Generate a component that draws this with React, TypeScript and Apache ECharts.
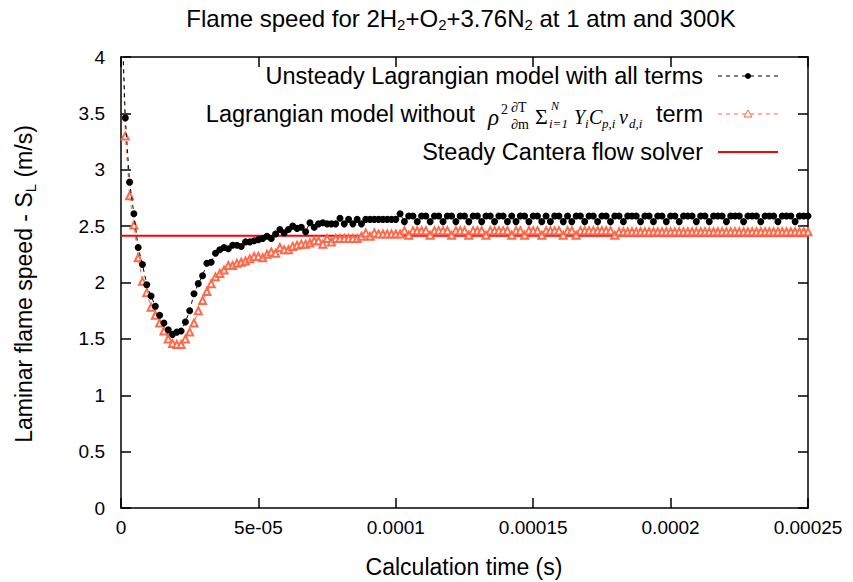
import React, { useEffect, useRef } from "react";
import * as echarts from "echarts";

// ---- data ----
const sampleStepSec = 1.5625e-6;

const unsteadyAllTerms = [
  4.6, 3.46, 2.89, 2.61, 2.31, 2.16, 1.98, 1.88, 1.79, 1.71,
  1.64, 1.58, 1.54, 1.56, 1.57, 1.65, 1.75, 1.9, 1.99, 2.06,
  2.17, 2.18, 2.26, 2.29, 2.31, 2.3, 2.33, 2.33, 2.32, 2.36,
  2.36, 2.37, 2.38, 2.39, 2.41, 2.39, 2.43, 2.47, 2.44, 2.47,
  2.5, 2.48, 2.49, 2.45, 2.53, 2.49, 2.52, 2.53, 2.52, 2.52,
  2.52, 2.57, 2.52, 2.56, 2.52, 2.56, 2.52, 2.56, 2.56, 2.56,
  2.56, 2.56, 2.56, 2.56, 2.56, 2.61, 2.54, 2.59, 2.59, 2.54,
  2.59, 2.59, 2.54, 2.59, 2.59, 2.54, 2.59, 2.59, 2.54, 2.59,
  2.59, 2.54, 2.59, 2.59, 2.54, 2.59, 2.59, 2.54, 2.59, 2.59,
  2.54, 2.59, 2.54, 2.59, 2.59, 2.54, 2.59, 2.59, 2.54, 2.59,
  2.54, 2.59, 2.59, 2.54, 2.59, 2.54, 2.59, 2.59, 2.54, 2.59,
  2.59, 2.54, 2.59, 2.59, 2.54, 2.59, 2.59, 2.54, 2.59, 2.59,
  2.59, 2.54, 2.59, 2.59, 2.54, 2.59, 2.59, 2.54, 2.59, 2.59,
  2.54, 2.59, 2.59, 2.59, 2.54, 2.59, 2.59, 2.54, 2.59, 2.59,
  2.59, 2.54, 2.59, 2.59, 2.59, 2.54, 2.59, 2.59, 2.59, 2.54,
  2.59, 2.59, 2.59, 2.54, 2.59, 2.59, 2.59, 2.54, 2.59, 2.59,
  2.59,
];

const withoutDiffusionTerm = [
  4.6, 3.3, 2.77, 2.51, 2.22, 2.01, 1.91, 1.78, 1.71, 1.64,
  1.57, 1.5, 1.46, 1.45, 1.45, 1.5, 1.56, 1.64, 1.75, 1.84,
  1.92, 1.99, 2.05, 2.08, 2.11, 2.15, 2.15, 2.17, 2.18, 2.19,
  2.21, 2.23, 2.23, 2.22, 2.25, 2.27, 2.26, 2.31, 2.29, 2.29,
  2.32, 2.33, 2.34, 2.34, 2.35, 2.37, 2.37, 2.34, 2.39, 2.36,
  2.39, 2.39, 2.39, 2.39, 2.39, 2.39, 2.41, 2.44, 2.41, 2.44,
  2.43, 2.43, 2.43, 2.43, 2.43, 2.43, 2.46, 2.42, 2.46, 2.46,
  2.46, 2.46, 2.42, 2.46, 2.46, 2.46, 2.46, 2.42, 2.46, 2.46,
  2.46, 2.42, 2.46, 2.46, 2.46, 2.42, 2.46, 2.46, 2.46, 2.46,
  2.46, 2.42, 2.46, 2.46, 2.42, 2.46, 2.46, 2.46, 2.42, 2.46,
  2.46, 2.46, 2.46, 2.42, 2.46, 2.46, 2.42, 2.46, 2.46, 2.46,
  2.46, 2.46, 2.46, 2.46, 2.46, 2.42, 2.45, 2.45, 2.45, 2.45,
  2.45, 2.45, 2.45, 2.45, 2.45, 2.45, 2.45, 2.45, 2.45, 2.45,
  2.45, 2.45, 2.45, 2.45, 2.45, 2.45, 2.45, 2.45, 2.45, 2.45,
  2.45, 2.45, 2.45, 2.45, 2.45, 2.45, 2.45, 2.45, 2.45, 2.45,
  2.45, 2.45, 2.45, 2.45, 2.45, 2.45, 2.45, 2.45, 2.45, 2.45,
  2.45,
];

const canteraSpeed = 2.415;

const xTickLabels = ["0", "5e-05", "0.0001", "0.00015", "0.0002", "0.00025"];
const xMin = 0;
const xMax = 0.00025;
const xStep = 0.00005;
const yMin = 0;
const yMax = 4;
const yStep = 0.5;

const legendNames = [
  "Unsteady Lagrangian model with all terms",
  "Lagrangian model without",
  "Steady Cantera flow solver",
];

// ---- styles ----
const SANS = "'Liberation Sans', Arial, sans-serif";
const SERIF = "'Liberation Serif', 'DejaVu Serif', serif";
const BLACK = "#000000";
const SALMON = "#ff6a4a";
const RED = "#ff0000";

const toPairs = (vals: number[]) => vals.map((v, i) => [i * sampleStepSec, v]);

function buildOption() {
  const axisLine = { show: true, onZero: false, lineStyle: { color: BLACK, width: 1.5 } };
  const axisTick = { show: true, inside: true, length: 10, lineStyle: { color: BLACK, width: 1.5 } };

  const t = (x: number, y: number, text: string, size: number, extra: any = {}) => ({
    type: "text",
    x,
    y,
    silent: true,
    style: {
      text,
      fill: BLACK,
      fontFamily: extra.family || SANS,
      fontSize: size,
      fontStyle: extra.italic ? "italic" : "normal",
      align: extra.align || "left",
      textAlign: extra.align || "left",
      verticalAlign: "middle",
      textVerticalAlign: "middle",
    },
  });

  const L1 = 76;
  const L2 = 114;
  const L3 = 152;
  const legendRight = 703;
  const legendSize = 23.5;

  const graphic: any[] = [
    // title
    {
      type: "text",
      x: 461,
      y: 18,
      silent: true,
      style: {
        text: "{n|Flame speed for 2H}{s|2}{n|+O}{s|2}{n|+3.76N}{s|2}{n| at 1 atm and 300K}",
        align: "center",
        textAlign: "center",
        verticalAlign: "middle",
        textVerticalAlign: "middle",
        fill: BLACK,
        rich: {
          n: { fontFamily: SANS, fontSize: 24, lineHeight: 28, fill: BLACK },
          s: { fontFamily: SANS, fontSize: 15, lineHeight: 15, verticalAlign: "bottom", fill: BLACK },
        },
      },
    },
    // y axis name
    {
      type: "text",
      x: 24,
      y: 284,
      rotation: Math.PI / 2,
      silent: true,
      style: {
        text: "{n|Laminar flame speed - S}{s|L}{n| (m/s)}",
        align: "center",
        textAlign: "center",
        verticalAlign: "middle",
        textVerticalAlign: "middle",
        fill: BLACK,
        rich: {
          n: { fontFamily: SANS, fontSize: 23, lineHeight: 28, fill: BLACK },
          s: { fontFamily: SANS, fontSize: 15, lineHeight: 15, verticalAlign: "bottom", fill: BLACK },
        },
      },
    },
    // x axis name
    t(464, 567, "Calculation time (s)", 23, { align: "center" }),

    // legend row 1
    t(legendRight, L1, legendNames[0], legendSize, { align: "right" }),
    {
      type: "line",
      silent: true,
      shape: { x1: 718, y1: L1, x2: 778, y2: L1 },
      style: { stroke: BLACK, lineWidth: 1, lineDash: [4, 4] },
    },
    { type: "circle", silent: true, shape: { cx: 748, cy: L1, r: 3 }, style: { fill: BLACK } },

    // legend row 2
    t(475, L2, legendNames[1], legendSize, { align: "right" }),
    t(488, L2 + 3, "ρ", 23, { family: SERIF, italic: true }),
    t(501, L2 - 5, "2", 14, { family: SERIF }),
    t(511, L2 - 7, "∂T", 14, { family: SERIF }),
    t(511, L2 + 10, "∂m", 14, { family: SERIF }),
    t(535, L2 + 2, "Σ", 22, { family: SERIF }),
    t(551, L2 - 8, "N", 12, { family: SERIF, italic: true }),
    t(549, L2 + 9, "i=1", 13, { family: SERIF, italic: true }),
    t(574, L2 + 3, "Y", 20, { family: SERIF, italic: true }),
    t(585, L2 + 9, "i", 13, { family: SERIF, italic: true }),
    t(589, L2 + 3, "C", 20, { family: SERIF, italic: true }),
    t(602, L2 + 9, "p,i", 13, { family: SERIF, italic: true }),
    t(619, L2 + 3, "v", 20, { family: SERIF, italic: true }),
    t(629, L2 + 9, "d,i", 13, { family: SERIF, italic: true }),
    t(legendRight, L2, "term", legendSize, { align: "right" }),
    {
      type: "line",
      silent: true,
      shape: { x1: 718, y1: L2, x2: 778, y2: L2 },
      style: { stroke: SALMON, lineWidth: 1, lineDash: [4, 4] },
    },
    {
      type: "polygon",
      silent: true,
      shape: { points: [[744, L2 + 3], [752, L2 + 3], [748, L2 - 4]] },
      style: { fill: "#ffffff", stroke: SALMON, lineWidth: 1 },
    },

    // legend row 3
    t(legendRight, L3, legendNames[2], legendSize, { align: "right" }),
    {
      type: "line",
      silent: true,
      shape: { x1: 718, y1: L3, x2: 778, y2: L3 },
      style: { stroke: RED, lineWidth: 2 },
    },
  ];

  return {
    animation: false,
    backgroundColor: "#ffffff",
    grid: { left: 121, top: 57, width: 687, height: 451, containLabel: false },
    xAxis: [
      {
        type: "value",
        position: "bottom",
        min: xMin,
        max: xMax,
        interval: xStep,
        axisLine,
        axisTick,
        splitLine: { show: false },
        axisLabel: {
          show: true,
          margin: 10,
          color: BLACK,
          fontFamily: SANS,
          fontSize: 19,
          formatter: (v: number) => xTickLabels[Math.round(v / xStep)] ?? "",
        },
      },
      {
        type: "value",
        position: "top",
        min: xMin,
        max: xMax,
        interval: xStep,
        axisLine,
        axisTick,
        splitLine: { show: false },
        axisLabel: { show: false },
      },
    ],
    yAxis: [
      {
        type: "value",
        position: "left",
        min: yMin,
        max: yMax,
        interval: yStep,
        axisLine,
        axisTick,
        splitLine: { show: false },
        axisLabel: { show: true, margin: 16, color: BLACK, fontFamily: SANS, fontSize: 19 },
      },
      {
        type: "value",
        position: "right",
        min: yMin,
        max: yMax,
        interval: yStep,
        axisLine,
        axisTick,
        splitLine: { show: false },
        axisLabel: { show: false },
      },
    ],
    series: [
      {
        name: legendNames[2],
        type: "line",
        xAxisIndex: 0,
        yAxisIndex: 0,
        data: [
          [xMin, canteraSpeed],
          [xMax, canteraSpeed],
        ],
        showSymbol: false,
        symbol: "none",
        lineStyle: { color: RED, width: 2 },
        z: 2,
      },
      {
        name: "without",
        type: "line",
        xAxisIndex: 0,
        yAxisIndex: 0,
        data: toPairs(withoutDiffusionTerm),
        clip: true,
        symbol: "emptyTriangle",
        symbolSize: 7,
        itemStyle: { color: SALMON, borderColor: SALMON, borderWidth: 1 },
        lineStyle: { color: SALMON, width: 1, type: [4, 4] },
        z: 3,
      },
      {
        name: legendNames[0],
        type: "line",
        xAxisIndex: 0,
        yAxisIndex: 0,
        data: toPairs(unsteadyAllTerms),
        clip: true,
        symbol: "circle",
        symbolSize: 7,
        itemStyle: { color: BLACK },
        lineStyle: { color: BLACK, width: 1, type: [4, 4] },
        z: 4,
      },
    ],
    graphic,
  };
}

export default function App() {
  const ref = useRef<HTMLDivElement>(null);
  useEffect(() => {
    if (!ref.current) return;
    const chart = echarts.init(ref.current, undefined, { renderer: "svg" });
    chart.setOption(buildOption() as any);
    return () => chart.dispose();
  }, []);
  return (
    <div
      ref={ref}
      style={{ width: 853, height: 582, position: "absolute", left: 0, top: 0, background: "#fff" }}
    />
  );
}
